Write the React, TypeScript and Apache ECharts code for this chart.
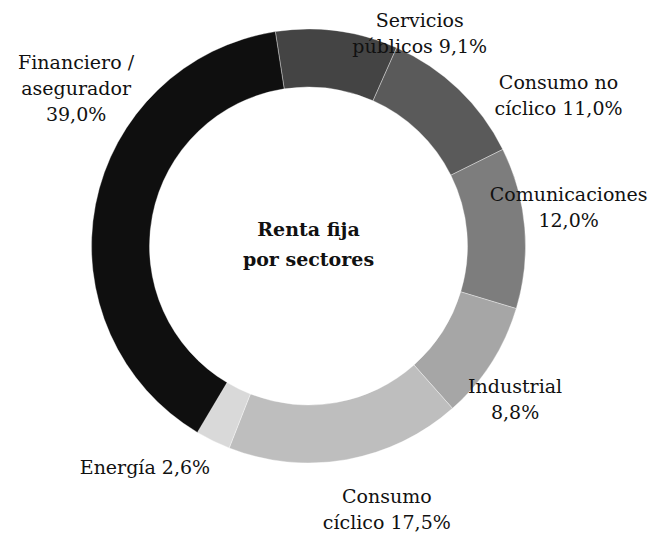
import React, { useEffect, useRef } from "react";
import * as echarts from "echarts";

// Data (clockwise from just left of 12 o'clock)
const categories = [
  "Servicios públicos",
  "Consumo no cíclico",
  "Comunicaciones",
  "Industrial",
  "Consumo cíclico",
  "Energía",
  "Financiero / asegurador",
];
const values = [9.1, 11.0, 12.0, 8.8, 17.5, 2.6, 39.0];
// How each label is broken into lines; {v} is replaced by the value
const labelTemplates = [
  "Servicios\npúblicos {v}",
  "Consumo no\ncíclico {v}",
  "Comunicaciones\n{v}",
  "Industrial\n{v}",
  "Consumo\ncíclico {v}",
  "Energía {v}",
  "Financiero /\nasegurador\n{v}",
];
const colors = ["#444444", "#5a5a5a", "#7d7d7d", "#a6a6a6", "#bebebe", "#d9d9d9", "#0f0f0f"];

// Layout (not data)
const CX = 308.5;
const CY = 246;
// label placement: angle clockwise from 12 o'clock (deg), distance from centre (px)
const labelAngles = [27.6, 58.9, 81.5, 126.5, 163.4, 216.5, 304.2];
const labelDists = [240, 292, 263, 257, 274, 275, 281];

const FONT = "DejaVu Serif";

const fmt = (v: number) => v.toFixed(1).replace(".", ",") + "%";

export default function App() {
  const ref = useRef<HTMLDivElement>(null);
  useEffect(() => {
    if (!ref.current) return;
    const chart = echarts.init(ref.current, null, { renderer: "svg" });
    chart.setOption({
      animation: false,
      backgroundColor: "#ffffff",
      series: [
        {
          type: "pie",
          center: [CX, CY],
          radius: [159, 217],
          startAngle: 98.8,
          clockwise: true,
          avoidLabelOverlap: false,
          itemStyle: { borderColor: "rgba(255,255,255,0.6)", borderWidth: 0.6 },
          label: {
            show: true,
            position: "outside",
            fontFamily: FONT,
            fontSize: 19,
            lineHeight: 26,
            color: "#111111",
            align: "center",
            formatter: (p: any) => labelTemplates[p.dataIndex].replace("{v}", fmt(p.value)),
          },
          labelLine: { show: false },
          labelLayout: (p: any) => {
            const i = p.dataIndex;
            const a = (labelAngles[i] * Math.PI) / 180;
            return {
              x: CX + Math.sin(a) * labelDists[i],
              y: CY - Math.cos(a) * labelDists[i],
              align: "center",
              verticalAlign: "middle",
            };
          },
          emphasis: { disabled: true },
          data: categories.map((c, i) => ({
            name: c,
            value: values[i],
            itemStyle: { color: colors[i] },
          })),
        },
      ],
      graphic: [
        {
          type: "text",
          x: CX,
          y: 244,
          style: {
            text: "Renta fija\npor sectores",
            fontFamily: FONT,
            fontWeight: "bold",
            fontSize: 19,
            lineHeight: 30,
            fill: "#111111",
            align: "center",
            verticalAlign: "middle",
          },
        },
      ],
    });
    return () => chart.dispose();
  }, []);
  return (
    <div
      ref={ref}
      style={{ position: "absolute", left: 0, top: 0, width: 653, height: 535 }}
    />
  );
}
